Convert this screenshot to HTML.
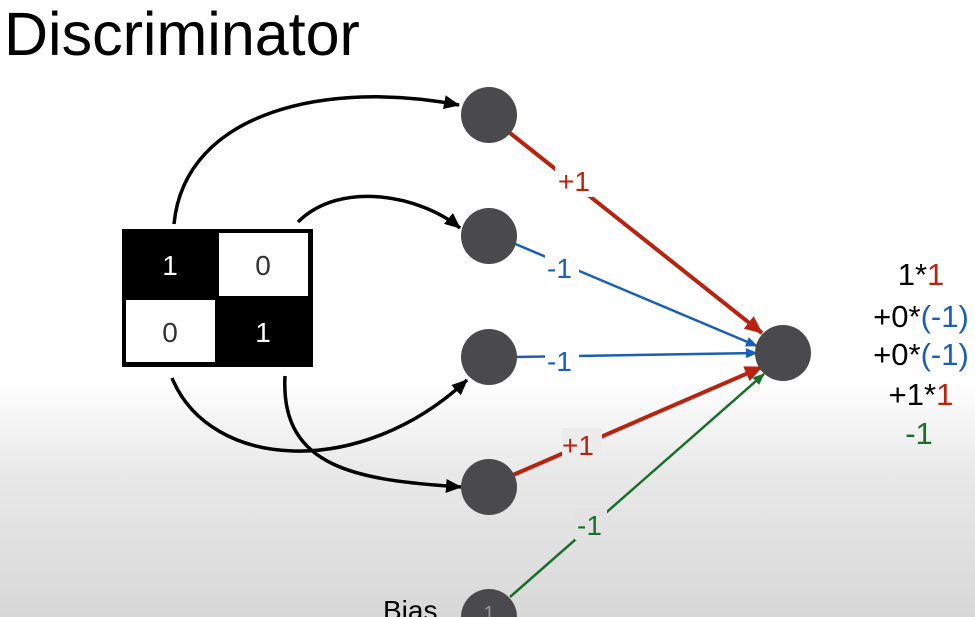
<!DOCTYPE html>
<html><head><meta charset="utf-8"><style>
html,body{margin:0;padding:0;width:975px;height:617px;overflow:hidden;}
body{background:linear-gradient(to bottom,#fff 0px,#fff 380px,#e9e9e9 470px,#d8d8d8 617px);font-family:"Liberation Sans",sans-serif;}
</style></head><body>
<svg width="975" height="617" viewBox="0 0 975 617" xmlns="http://www.w3.org/2000/svg" style="position:absolute;left:0;top:0">
<defs>
<marker id="ak" markerWidth="16" markerHeight="14" refX="15" refY="7" orient="auto" markerUnits="userSpaceOnUse"><path d="M0,0 L16,7 L0,14 z" fill="#000"/></marker>
<marker id="ar" markerWidth="18" markerHeight="16" refX="17" refY="8" orient="auto" markerUnits="userSpaceOnUse"><path d="M0,0 L18,8 L0,16 z" fill="#b8230f"/></marker>
<marker id="ab" markerWidth="12" markerHeight="10" refX="11" refY="5" orient="auto" markerUnits="userSpaceOnUse"><path d="M0,0 L12,5 L0,10 z" fill="#1a5fb4"/></marker>
<marker id="ag" markerWidth="12" markerHeight="10" refX="11" refY="5" orient="auto" markerUnits="userSpaceOnUse"><path d="M0,0 L12,5 L0,10 z" fill="#17702a"/></marker>
</defs>
<text x="4" y="55" font-size="61" fill="#000">Discriminator</text>
<g fill="none" stroke="#000" stroke-width="3.5">
<path d="M174,224 C185,110 330,80 459,105" marker-end="url(#ak)"/>
<path d="M298,222 C340,180 420,195 460,228" marker-end="url(#ak)"/>
<path d="M172,378 C210,470 360,480 467,380" marker-end="url(#ak)"/>
<path d="M285,376 C280,470 360,480 461,487" marker-end="url(#ak)"/>
</g>
<line x1="510" y1="133" x2="762" y2="333" stroke="#b8230f" stroke-width="4" marker-end="url(#ar)"/>
<line x1="513" y1="243" x2="757" y2="346" stroke="#1a5fb4" stroke-width="2.5" marker-end="url(#ab)"/>
<line x1="515" y1="357" x2="757" y2="353" stroke="#1a5fb4" stroke-width="2.5" marker-end="url(#ab)"/>
<line x1="513" y1="475" x2="762" y2="367" stroke="#b8230f" stroke-width="4" marker-end="url(#ar)"/>
<line x1="510" y1="597" x2="764" y2="374" stroke="#17702a" stroke-width="2.5" marker-end="url(#ag)"/>
<g font-size="28">
<rect x="555" y="165" width="44" height="32" fill="#fff"/><text x="558" y="191" fill="#b8230f">+1</text>
<rect x="545" y="252" width="34" height="30" fill="#fff"/><text x="547" y="278" fill="#1a5fb4">-1</text>
<rect x="545" y="344" width="34" height="30" fill="#fff"/><text x="547" y="371" fill="#1a5fb4">-1</text>
<rect x="562" y="428" width="40" height="32" fill="#ececec"/><text x="562" y="455" fill="#b8230f">+1</text>
<rect x="575" y="508" width="32" height="32" fill="#e2e2e2"/><text x="577" y="535" fill="#17702a">-1</text>
</g>
<rect x="122" y="229" width="191" height="138" fill="#000"/>
<rect x="219" y="233" width="89" height="63" fill="#fff"/>
<rect x="126" y="300" width="89" height="62" fill="#fff"/>
<g font-size="28" text-anchor="middle">
<text x="170" y="275" fill="#fff">1</text>
<text x="263" y="275" fill="#333">0</text>
<text x="170" y="342" fill="#333">0</text>
<text x="263" y="342" fill="#fff">1</text>
</g>
<g fill="#4a4a4d">
<circle cx="489" cy="115" r="28"/>
<circle cx="489" cy="236" r="28"/>
<circle cx="489" cy="357" r="28"/>
<circle cx="489" cy="487" r="28"/>
<circle cx="489" cy="617" r="28"/>
<circle cx="783" cy="353" r="28"/>
</g>
<text x="489" y="620" font-size="20" fill="#999" text-anchor="middle">1</text>
<text x="383" y="620" font-size="28" fill="#000">Bias</text>
<g font-size="31" text-anchor="middle">
<text x="921" y="285"><tspan fill="#000">1*</tspan><tspan fill="#b8230f">1</tspan></text>
<text x="921" y="327"><tspan fill="#000">+0*</tspan><tspan fill="#1a5fb4">(-1)</tspan></text>
<text x="921" y="365"><tspan fill="#000">+0*</tspan><tspan fill="#1a5fb4">(-1)</tspan></text>
<text x="921" y="405"><tspan fill="#000">+1*</tspan><tspan fill="#b8230f">1</tspan></text>
<text x="919" y="444" fill="#17702a">-1</text>
</g>
</svg>
</body></html>
